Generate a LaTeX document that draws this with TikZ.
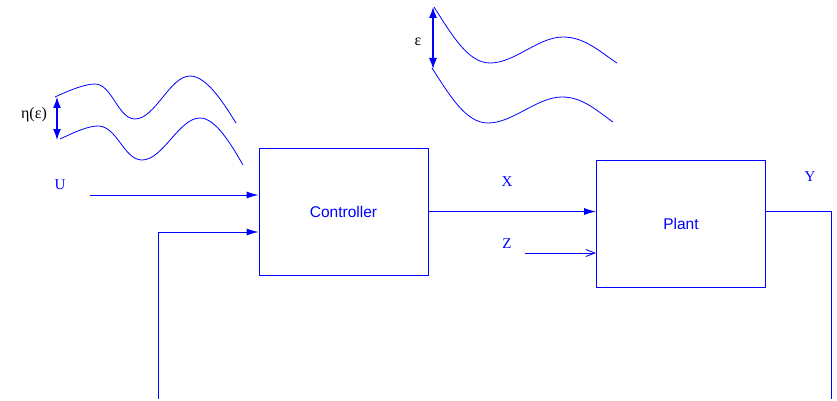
\documentclass[tikz,border=0pt]{standalone}
\usepackage{fontspec}
\setmainfont{Liberation Serif}
\newfontfamily\hvfont{Liberation Sans}
\usetikzlibrary{arrows.meta}
\tikzset{
  blk/.style={draw=blue, line width=0.9pt, minimum width=169pt, minimum height=127pt, inner sep=0pt,
    text=blue, font=\hvfont\fontsize{15.5}{18}\selectfont},
  wire/.style={draw=blue, line width=0.9pt},
  fill arrow/.style={-{Latex[length=12pt,width=7pt]}},
  open arrow/.style={-{Straight Barb[length=9pt,width=7pt]}},
  dbl/.style={draw=blue, line width=1.2pt, {Latex[length=11pt,width=8pt]}-{Latex[length=11pt,width=8pt]}},
  wave/.style={draw=blue, line width=0.8pt},
  sig/.style={text=blue, font=\fontsize{15}{18}\selectfont, inner sep=0pt},
  greek/.style={text=black, font=\fontsize{16}{18}\selectfont, inner sep=0pt}
}
\begin{document}
\begin{tikzpicture}[x=1pt,y=-1pt]
\useasboundingbox (0,0) rectangle (837,401);
% blocks
\node[blk] (ctrl) at (343.5,211.5) {Controller};
\node[blk] (plant) at (681,223.5) {Plant};
% signal labels
\node[sig] (U) at (60,185) {U};
\node[sig] (X) at (507,182) {X};
\node[sig] (Z) at (507,244) {Z};
\node[sig] (Y) at (810,177) {Y};
% coordinates
\coordinate (uin) at (90,195);
\coordinate (fbbot) at (158,399);
\coordinate (fbcorner) at (158,232);
\coordinate (zin) at (525,253);
\coordinate (ybot) at (831.5,399);
% connectors
\draw[wire, fill arrow] (uin) -- (uin -| ctrl.west);
\draw[wire, fill arrow] (fbbot) -- (fbcorner) -- (fbcorner -| ctrl.west);
\draw[wire, fill arrow] (ctrl.east) -- (ctrl.east -| plant.west);
\draw[wire, open arrow] (zin) -- (zin -| plant.west);
\draw[wire] (ctrl.east -| plant.east) -- (ctrl.east -| ybot) -- (ybot);
% wave group 1
\draw[wave] (55,97) .. controls (70,90) and (85,84) .. (95,84)
  .. controls (112,84) and (118,119) .. (135,119)
  .. controls (155,119) and (170,76) .. (190,76)
  .. controls (207,76) and (224,104) .. (236,123);
\draw[wave] (60,139) .. controls (75,132) and (88,126) .. (98,126)
  .. controls (117,126) and (124,160) .. (142,160)
  .. controls (163,160) and (179,118) .. (200,118)
  .. controls (216,118) and (232,146) .. (243,165);
\coordinate (e1a) at (57,97);
\coordinate (e1b) at (57,140);
\draw[dbl] (e1a) -- (e1b);
\node[greek] (eta) at (34,115) {η(ε)};
% wave group 2
\draw[wave] (434,7) .. controls (452,35) and (468,63) .. (490,63)
  .. controls (515,63) and (538,37) .. (563,37)
  .. controls (585,37) and (600,52) .. (617,63);
\draw[wave] (432,68) .. controls (450,96) and (466,123) .. (488,123)
  .. controls (513,123) and (537,97) .. (562,97)
  .. controls (583,97) and (597,111) .. (613,122);
\coordinate (e2a) at (433,7);
\coordinate (e2b) at (433,69);
\draw[dbl] (e2a) -- (e2b);
\node[greek] (eps) at (418,42) {ε};
\end{tikzpicture}
\end{document}
